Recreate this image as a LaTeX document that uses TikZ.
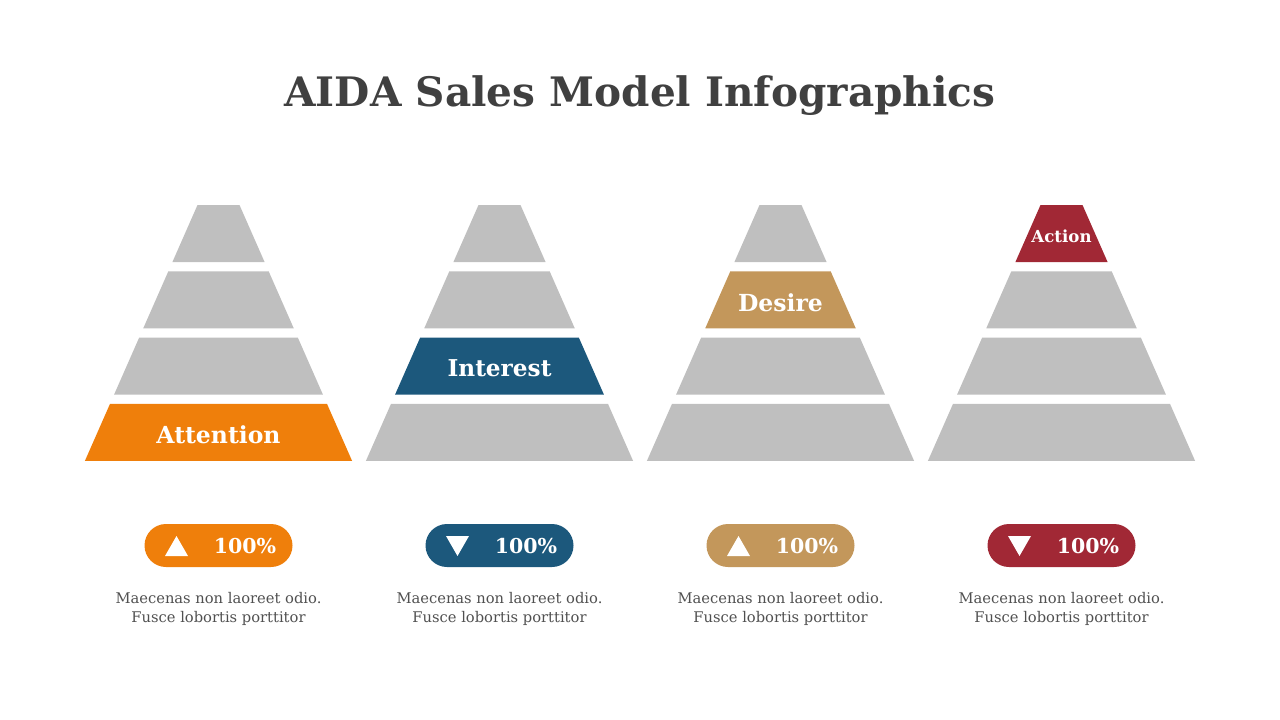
\documentclass[tikz,border=0pt]{standalone}
\usepackage{fontspec}
\setmainfont{DejaVu Serif}
\definecolor{aorange}{HTML}{EF7F0B}
\definecolor{iblue}{HTML}{1C587C}
\definecolor{dtan}{HTML}{C3975B}
\definecolor{ared}{HTML}{A12835}
\definecolor{layergray}{HTML}{BFBFBF}
\definecolor{titlegray}{HTML}{404040}
\definecolor{notegray}{HTML}{505050}

\begin{document}
\begin{tikzpicture}[x=1pt,y=-1pt]
        % Define styles
        \tikzset{
            steplabel/.style={text=white},
            pill/.style={rounded corners=21.5pt, minimum width=148pt, minimum height=43pt, inner sep=0pt},
            pct/.style={text=white, font=\bfseries\fontsize{20.5}{24}\selectfont},
            note/.style={text=notegray, font=\fontsize{14.7}{19}\selectfont, align=center}
        }
        \useasboundingbox (0,0) rectangle (1280,720);
        % Title
        \node[text=titlegray, font=\bfseries\fontsize{40.6}{48}\selectfont] (title) at (640,96) {AIDA Sales Model Infographics};
        % One cone, one pill and one note per step
        \foreach \n/\cx/\hl/\col/\lab/\dir/\fs in {1/218.5/4/aorange/Attention/1/23.5, 2/499.5/3/iblue/Interest/-1/23.2, 3/780.5/2/dtan/Desire/1/23.5, 4/1061.5/1/ared/Action/-1/16.6}{
            % layers of the cone
            \foreach \i in {1,...,4}{
                \pgfmathsetmacro{\yt}{205+66.3*(\i-1)}
                \pgfmathsetmacro{\yb}{\yt+57}
                \pgfmathsetmacro{\wt}{21+0.44*(\yt-205)}
                \pgfmathsetmacro{\wb}{21+0.44*(\yb-205)}
                \ifnum\i=\hl \def\fc{\col}\else\def\fc{layergray}\fi
                \fill[\fc] (\cx-\wt,\yt) -- (\cx+\wt,\yt) -- (\cx+\wb,\yb) -- (\cx-\wb,\yb) -- cycle;
            }
            \pgfmathsetmacro{\ly}{205+66.3*(\hl-1)+31}
            \node[steplabel, font=\bfseries\fontsize{\fs}{24}\selectfont] (lab\n) at (\cx,\ly) {\lab};
            % value pill with arrow
            \node[pill, fill=\col] (pill\n) at (\cx,545.5) {};
            \fill[white] (\cx-53.5,546+10*\dir) -- (\cx-30.5,546+10*\dir) -- (\cx-42,546-10*\dir) -- cycle;
            \node[pct] (pct\n) at ([xshift=26.5pt,yshift=-1pt]pill\n.center) {100\%};
            % note below
            \node[note] (note\n) at (\cx,608.5) {Maecenas non laoreet odio.\\Fusce lobortis porttitor};
        }
\end{tikzpicture}
\end{document}
